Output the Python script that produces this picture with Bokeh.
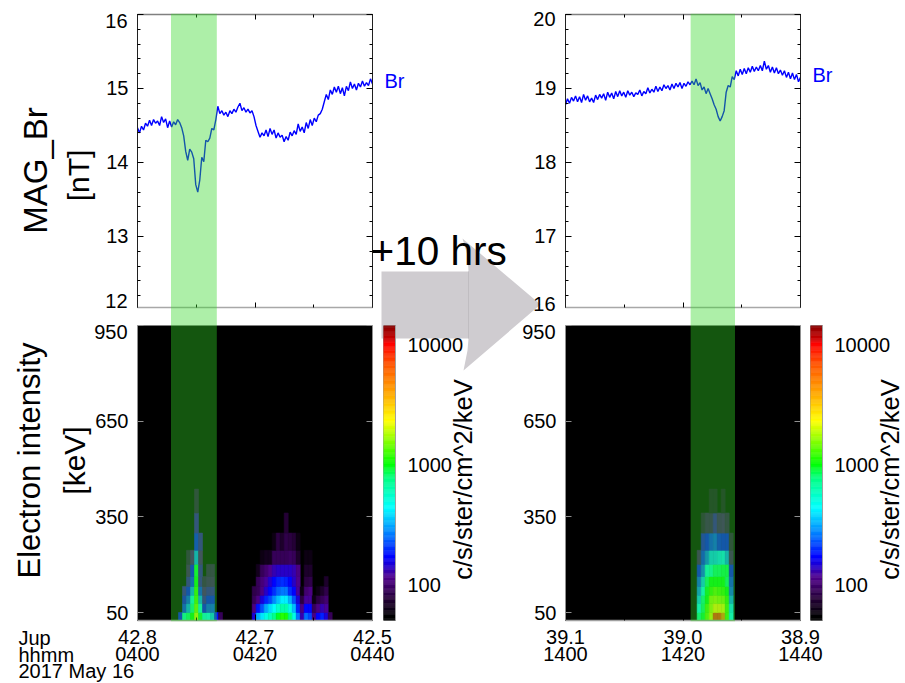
import numpy as np
from bokeh.plotting import figure
from bokeh.models import (Range1d, LinearAxis, LogAxis, FixedTicker, Label, GridBox,
                          LogColorMapper, ColumnDataSource)
from bokeh.embed import file_html
from bokeh.resources import INLINE

# ---------------- data ----------------
BR_LEFT = [14.47,14.40,14.49,14.44,14.53,14.49,14.57,14.50,14.58,14.53,14.56,14.50,14.62,14.54,14.59,14.47,14.56,14.48,
           14.55,14.51,14.58,14.54,14.47,14.36,14.15,14.03,14.18,14.14,14.05,13.70,13.60,13.76,14.07,14.01,14.30,14.28,
           14.33,14.46,14.44,14.58,14.76,14.66,14.70,14.64,14.68,14.62,14.70,14.66,14.72,14.68,14.75,14.80,14.70,14.74,
           14.68,14.72,14.67,14.70,14.62,14.50,14.42,14.34,14.40,14.36,14.44,14.35,14.46,14.38,14.44,14.33,14.40,14.34,
           14.37,14.28,14.35,14.30,14.41,14.36,14.43,14.38,14.52,14.42,14.48,14.40,14.54,14.46,14.58,14.50,14.60,14.55,
           14.64,14.66,14.72,14.82,14.92,14.85,14.98,14.92,15.02,14.95,15.03,14.93,15.01,14.90,15.03,14.97,15.09,15.00,
           15.06,14.98,15.07,15.02,15.10,15.03,15.08,15.04,15.13,15.06]
BR_RIGHT = [18.78,18.86,18.80,18.88,18.83,18.90,18.82,18.89,18.81,18.92,18.84,18.90,18.82,18.87,18.81,18.91,18.85,18.92,
            18.87,18.93,18.84,18.95,18.88,18.94,18.86,18.96,18.89,18.97,18.90,18.95,18.88,18.97,18.91,18.95,18.89,18.94,
            18.92,18.98,18.90,18.96,18.93,19.01,18.94,18.99,18.95,19.03,18.96,19.02,18.97,19.05,19.00,19.04,18.98,19.06,
            19.00,19.07,19.02,19.08,19.00,19.07,19.03,19.09,19.05,19.10,19.05,19.13,19.04,19.08,18.98,19.02,18.93,19.00,
            18.93,18.86,18.78,18.72,18.62,18.56,18.62,18.70,18.95,19.04,19.02,19.16,19.12,19.24,19.17,19.26,19.19,19.27,
            19.20,19.28,19.22,19.30,19.23,19.29,19.24,19.31,19.24,19.37,19.26,19.31,19.22,19.29,19.21,19.28,19.20,19.25,
            19.18,19.24,19.15,19.22,19.13,19.21,19.12,19.19,19.09,19.15]

ENERGY_EDGES = [25, 50, 78, 104, 132, 163, 201, 245, 299, 362, 437]
CELL_MIN = 0.681
BURST1_T0 = 6.98
BURST1 = [
    [170,600,800,1000,2000,900,500,450,350,180,90],
    [0,200,300,700,1500,500,170,220,220,0,0],
    [0,160,220,500,1300,300,130,170,170,0,0],
    [0,130,170,300,1200,200,110,130,130,0,0],
    [0,0,130,200,1000,130,90,100,100,0,0],
    [0,0,100,170,900,130,0,90,90,0,0],
    [0,0,85,110,300,110,0,0,0,0,0],
    [0,0,0,0,180,130,0,0,0,0,0],
    [0,0,0,0,130,0,0,0,0,0,0],
    [0,0,0,0,85,0,0,0,0,0,0],
]
BURST2_T0 = 19.52
BURST2 = [
    [150,320,400,500,600,750,950,1150,1100,800,500,260,130,250,220,110,170,190,150,90],
    [110,180,230,310,380,450,550,650,650,500,340,190,110,170,170,90,110,130,120,0],
    [90,110,150,190,220,280,350,420,420,330,230,150,80,120,120,60,80,90,100,0],
    [85,90,110,140,170,200,240,260,260,200,170,120,60,100,110,0,60,70,85,0],
    [0,90,105,120,145,170,190,200,190,170,140,115,0,80,85,0,0,0,70,0],
    [0,65,90,100,115,130,140,140,140,140,130,110,0,70,70,0,0,0,0,0],
    [0,0,60,65,65,90,90,90,90,95,90,70,0,60,60,0,0,0,0,0],
    [0,0,0,0,0,60,80,70,85,80,75,60,0,0,0,0,0,0,0,0],
    [0,0,0,0,0,0,0,0,75,0,0,0,0,0,0,0,0,0,0,0],
]
BURST3_T0 = 22.41
BURST3 = [
    [700,900,1400,2000,8000,8000,5000,1300,450],
    [450,800,1300,1800,2400,2500,2200,1300,400],
    [350,700,1000,1700,1800,1700,1600,1200,300],
    [270,450,950,1200,1400,1300,1200,1000,230],
    [220,350,800,1000,1000,1000,1000,800,200],
    [170,240,500,550,800,800,850,850,170],
    [100,190,250,350,350,380,400,300,100],
    [0,150,170,200,220,180,170,170,85],
    [0,80,95,95,130,100,105,90,0],
    [0,0,0,70,70,0,70,0,0],
]
BAND_LEFT = (5.7, 13.5)
BAND_RIGHT = (21.3, 28.85)
TIME_TICKS = [0, 20, 40]
JUP_LEFT = ["42.8", "42.7", "42.5"]
JUP_RIGHT = ["39.1", "39.0", "38.9"]
HHMM_LEFT = ["0400", "0420", "0440"]
HHMM_RIGHT = ["1400", "1420", "1440"]
CB_TICKS = [100, 1000, 10000]
E_TICKS = [50, 350, 650, 950]

# ---------------- palette ----------------
STOPS = [(0,"#000000"),(.01,"#000000"),(.078,"#28003c"),(.146,"#50008c"),(.214,"#0000ff"),(.295,"#0080ff"),
         (.383,"#00ffff"),(.485,"#00ff80"),(.532,"#00ff00"),(.678,"#ffff00"),(.769,"#ffaa00"),(.871,"#ff5500"),
         (.942,"#ff0000"),(.956,"#cc0000"),(1,"#8b0000")]
_f = [s[0] for s in STOPS]
_c = np.array([[int(s[1][i:i+2],16) for i in (1,3,5)] for s in STOPS])
_g = np.linspace(0,1,256)
PALETTE = ["#%02x%02x%02x" % tuple(int(round(np.interp(g,_f,_c[:,k]))) for k in range(3)) for g in _g]
mapper = LogColorMapper(palette=PALETTE, low=50, high=14700)

# ---------------- layout helpers ----------------
W, H = 905, 683
FONT = "Liberation Sans"

def panel(x0, x1, y0, y1, xr, yr, **kw):
    p = figure(width=W, height=H, x_range=xr, y_range=yr,
                  min_border_left=x0, min_border_right=W-x1,
                  min_border_top=y0, min_border_bottom=H-y1,
                  toolbar_location=None, output_backend="svg", frame_align=False,
                  background_fill_color=None, border_fill_color=None,
                  outline_line_color=None, x_axis_location=None, y_axis_location=None, **kw)
    p.grid.visible = False
    return p

def blank_labels(ax, ticks):
    ax.major_label_overrides = {t: "" for t in ticks}

def style_y(ax):
    ax.major_tick_in, ax.major_tick_out = 6, 0
    ax.minor_tick_in, ax.minor_tick_out = 3, 0
    ax.major_label_text_font = FONT
    ax.major_label_text_font_size = "20px"
    ax.major_label_standoff = 9
    ax.major_label_text_color = "black"

def mag_panel(x0, br, yr, ticks, blank):
    p = panel(x0, x0+235, 14, 307, Range1d(0,40), Range1d(*yr))
    minors = [ticks[0]+i*0.2 for i in range(21)]
    for side in ("left","right"):
        a = LinearAxis(ticker=FixedTicker(ticks=ticks, minor_ticks=minors))
        style_y(a)
        a.axis_line_color = "#202020"
        if side == "left":
            a.major_label_overrides = {blank[0]:"", blank[1]:""}
        else:
            blank_labels(a, ticks)
        p.add_layout(a, side)
    for side, col in (("above","#808080"),("below","#a8a8a8")):
        a = LinearAxis(ticker=FixedTicker(ticks=[0,20,40], minor_ticks=[10,30]))
        blank_labels(a, [0,20,40])
        a.major_tick_in, a.major_tick_out = 5, 0
        a.minor_tick_in, a.minor_tick_out = 3, 0
        a.axis_line_color = col
        a.axis_line_width = 1.5
        p.add_layout(a, side)
    t = np.linspace(0, 40, len(br))
    p.line(t, br, line_color="#0000ff", line_width=1.4)
    return p

def cells(bursts):
    l, r, b, t, v = [], [], [], [], []
    for t0, rows in bursts:
        for i, row in enumerate(rows):
            for j, val in enumerate(row):
                if val > 0:
                    l.append(t0+j*CELL_MIN); r.append(t0+(j+1)*CELL_MIN)
                    b.append(ENERGY_EDGES[i]); t.append(ENERGY_EDGES[i+1]); v.append(val)
    return ColumnDataSource(dict(l=l, r=r, b=b, t=t, v=v))

def spec_panel(x0, bursts, jup, hhmm):
    p = panel(x0, x0+235, 325, 620, Range1d(0,40), Range1d(25,950))
    p.background_fill_color = "black"
    tr = {"field":"v","transform":mapper}
    p.quad(left="l", right="r", bottom="b", top="t", source=cells(bursts),
           fill_color=tr, line_color=tr, line_width=0.6)
    for side in ("left","right"):
        a = LinearAxis(ticker=FixedTicker(ticks=E_TICKS))
        style_y(a)
        a.axis_line_color = "#909090"
        a.major_tick_line_color = "#909090"
        if side == "left":
            a.major_label_overrides = {950:""}
        else:
            blank_labels(a, E_TICKS)
        p.add_layout(a, side)
    a = LinearAxis(ticker=FixedTicker(ticks=TIME_TICKS, minor_ticks=[10,30]))
    a.major_tick_in, a.major_tick_out = 6, 0
    a.minor_tick_in, a.minor_tick_out = 3, 0
    a.axis_line_color = "#a0a0a0"
    a.axis_line_width = 1.5
    a.major_label_overrides = dict(zip(TIME_TICKS, jup))
    a.major_label_text_font = FONT
    a.major_label_text_font_size = "20px"
    a.major_label_text_color = "black"
    a.major_label_standoff = 9
    p.add_layout(a, "below")
    a2 = LinearAxis(ticker=FixedTicker(ticks=TIME_TICKS))
    a2.major_tick_line_color = None
    a2.minor_tick_line_color = None
    a2.axis_line_color = None
    a2.major_label_overrides = dict(zip(TIME_TICKS, hhmm))
    a2.major_label_text_font = FONT
    a2.major_label_text_font_size = "20px"
    a2.major_label_text_color = "black"
    a2.major_label_standoff = -6
    p.add_layout(a2, "below")
    return p

def colorbar(x0):
    p = panel(x0, x0+12, 325, 620, Range1d(0,1), Range1d(50,14700), y_axis_type="log")
    edges = np.geomspace(50, 14700, 257)
    p.quad(left=0, right=1, bottom=edges[:-1], top=edges[1:], fill_color=PALETTE, line_color=PALETTE, line_width=0.5)
    a = LogAxis(ticker=FixedTicker(ticks=CB_TICKS))
    a.major_tick_line_color = None
    a.minor_tick_line_color = None
    a.axis_line_color = "#a0a0a0"
    a.major_label_text_font = FONT
    a.major_label_text_font_size = "20px"
    a.major_label_text_color = "black"
    a.major_label_standoff = 6
    a.major_label_overrides = {100:"100",1000:"1000",10000:"10000"}
    p.add_layout(a, "right")
    p.outline_line_color = "#a0a0a0"
    return p

def band(x0, span):
    p = panel(x0, x0+235, 13, 621, Range1d(0,40), Range1d(0,1))
    p.quad(left=span[0], right=span[1], bottom=0, top=1, fill_color="#32d726", fill_alpha=0.4, line_color=None)
    return p

# pixel frame layers for the decorations
def page_layer():
    p = figure(width=W, height=H, x_range=Range1d(0,W), y_range=Range1d(H,0),
                  min_border=0, toolbar_location=None, output_backend="svg", frame_align=False,
                  background_fill_color=None, border_fill_color=None, outline_line_color=None,
                  x_axis_location=None, y_axis_location=None)
    p.grid.visible = False
    return p

arrow = page_layer()
arrow.patch([381,468,467,462,540,463,467,468,381], [271,271,255,238,304,370,350,338,338],
            fill_color="#cfccd0", line_color=None)
arrow.segment([468],[271],[468],[338], line_color="#c0bdc1", line_width=1)

top = page_layer()
def txt(x, y, s, size=20, align="right", base="middle", angle=0, color="black"):
    top.add_layout(Label(x=x, y=y, text=s, text_font=FONT, text_font_size=f"{size}px", text_align=align,
                         text_baseline=base, angle=angle, text_color=color))
R = np.pi/2
txt(127,20,"16"); txt(127,300,"12"); txt(127,331,"950")
txt(555,18,"20"); txt(555,303,"16"); txt(555,331,"950")
txt(384,80,"Br",align="left",color="#0000ff"); txt(812,74,"Br",align="left",color="#0000ff")
txt(35,170,"MAG_Br",size=33,align="center",angle=R); txt(78,175,"[nT]",size=30,align="center",angle=R)
txt(29,460,"Electron intensity",size=31,align="center",angle=R); txt(74,460,"[keV]",size=30,align="center",angle=R)
txt(462,479,"c/s/ster/cm^2/keV",size=25.5,align="center",angle=R); txt(889,479,"c/s/ster/cm^2/keV",size=25.5,align="center",angle=R)
txt(370,250,"+10 hrs",size=40.5,align="left",base="alphabetic")
txt(18,637,"Jup",align="left",base="alphabetic"); txt(18,654,"hhmm",align="left",base="alphabetic")
txt(18,670,"2017 May 16",align="left",base="alphabetic")

layers = [arrow,
          mag_panel(137, BR_LEFT, (12.04,16), [12,13,14,15,16], (12,16)),
          mag_panel(565, BR_RIGHT, (16.04,20), [16,17,18,19,20], (16,20)),
          spec_panel(137, [(BURST1_T0,BURST1),(BURST2_T0,BURST2)], JUP_LEFT, HHMM_LEFT),
          spec_panel(565, [(BURST3_T0,BURST3)], JUP_RIGHT, HHMM_RIGHT),
          band(137, BAND_LEFT), band(565, BAND_RIGHT),
          colorbar(383), colorbar(810), top]
root = GridBox(children=[(f, 0, 0) for f in layers], width=W, height=H)
open("out.html","w").write(file_html(root, INLINE))
